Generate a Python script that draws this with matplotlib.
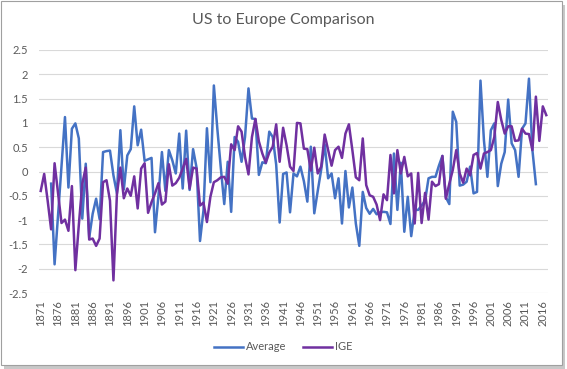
import numpy as np
import matplotlib
matplotlib.use("Agg")
import matplotlib.pyplot as plt
from matplotlib.patches import Rectangle

plt.rcParams['font.family'] = ['Lato', 'DejaVu Sans']

years = list(range(1871, 2018))

ige = [-0.40, -0.05, -0.60, -1.19, 0.17, -0.45, -1.06, -0.99, -1.22, -0.30,
       -2.03, -1.10, -0.25, 0.08, -1.40, -1.38, -1.53, -1.38, -0.22, -0.18,
       -0.60, -2.24, -0.47, 0.08, -0.55, -0.35, -0.50, -0.10, -0.76, 0.06,
       0.17, -0.85, -0.63, -0.45, -0.24, -0.68, -0.62, 0.15, -0.29, -0.24,
       -0.13, 0.06, 0.26, -0.35, 0.08, 0.06, -0.70, -0.64, -1.04, -0.52,
       -0.22, -0.18, -0.12, -0.11, -0.25, 0.56, 0.44, 0.93, 0.82, 0.30,
       -0.06, 0.71, 1.08, 0.62, 0.37, 0.18, 0.39, 0.51, 0.97, 0.20,
       0.90, 0.54, 0.10, 0.01, 1.00, 0.99, 0.47, 0.46, 0.02, 0.49,
       -0.04, 0.10, 0.76, 0.44, 0.12, 0.44, 0.51, 0.28, 0.78, 0.97,
       0.44, -0.12, -0.18, 0.68, -0.28, -0.49, -0.52, -0.68, -1.00, -0.47,
       -0.59, 0.34, -0.45, 0.44, -0.04, 0.30, -0.10, -0.04, -1.07, -0.03,
       -1.06, -0.44, -0.99, -0.21, -0.30, -0.26, 0.32, -0.56, -0.25, 0.03,
       0.44, -0.04, -0.23, 0.06, -0.08, 0.34, 0.38, 0.06, 0.37, 0.40,
       0.44, 0.71, 1.43, 1.06, 0.78, 0.93, 0.93, 0.63, 0.64, 0.88,
       0.78, 0.77, 0.44, 1.54, 0.63, 1.34, 1.16]

nan = np.nan
average = [nan, nan, nan, -0.25, -1.91, -0.90, 0.10, 1.12, -0.33, 0.88,
           0.99, 0.68, -0.97, 0.16, -1.36, -0.87, -0.56, -0.98, 0.40, 0.42,
           0.43, -0.08, -0.45, 0.85, -0.37, 0.33, 0.46, 1.34, 0.54, 0.86,
           0.22, 0.25, 0.28, -1.25, -0.50, 0.40, -0.40, 0.44, 0.23, -0.04,
           0.78, -0.35, 0.84, -0.38, 0.46, 0.08, -1.43, -0.80, 0.89, -0.22,
           1.77, 0.88, 0.08, -0.67, 0.20, -0.83, 0.71, 0.61, 0.20, 0.71,
           1.71, 1.09, 1.08, -0.07, 0.19, 0.17, 0.82, 0.71, 0.14, -1.05,
           -0.05, -0.02, -0.84, -0.04, -0.10, 0.10, -0.20, -0.62, 0.51, -0.86,
           -0.40, 0.04, 0.56, -0.14, -0.04, -0.55, -0.14, -1.07, 0.01, -0.74,
           -0.33, -1.07, -1.53, -0.42, -0.75, -0.87, -0.77, -0.88, -0.84, -0.83,
           -0.84, -1.08, 0.37, -0.79, 0.18, -1.24, -0.52, -1.33, -0.79, -0.79,
           -0.70, -0.60, -0.14, -0.11, -0.11, 0.12, 0.32, -0.53, -0.67, 1.23,
           1.02, -0.29, -0.27, -0.21, 0.10, -0.45, -0.42, 1.87, 0.64, -0.11,
           0.85, 0.99, -0.30, 0.16, 0.40, 1.48, 0.58, 0.44, -0.11, 0.88,
           0.99, 1.91, 0.44, -0.26, nan, nan, nan]

title = "US to Europe Comparison"
series_names = ["Average", "IGE"]
colors = ["#4472C4", "#7030A0"]
yticks = [-2.5, -2, -1.5, -1, -0.5, 0, 0.5, 1, 1.5, 2, 2.5]

W, H = 567, 369
fig = plt.figure(figsize=(W / 100, H / 100), dpi=100)
fig.patch.set_facecolor("white")

# frame with shadow
fig.patches.append(Rectangle((4 / W, 0 / H), (W - 6) / W, (H - 5) / H,
                             transform=fig.transFigure, facecolor="#C8C8C8",
                             edgecolor="none", zorder=-3))
fig.patches.append(Rectangle((1 / W, 4 / H), (W - 6) / W, (H - 5) / H,
                             transform=fig.transFigure, facecolor="white",
                             edgecolor="#A0A0A0", linewidth=0.8, zorder=-2))

ax = fig.add_axes([39 / W, 1 - 293 / H, (548 - 39) / W, (293 - 50) / H])
x = np.arange(len(years))
ax.plot(x, average, color=colors[0], lw=1.8, label=series_names[0],
        solid_joinstyle="round")
ax.plot(x, ige, color=colors[1], lw=1.8, label=series_names[1],
        solid_joinstyle="round")

ax.set_xlim(-0.5, len(years) - 0.5)
ax.set_ylim(-2.5, 2.5)
ax.set_yticks(yticks)
ax.set_yticklabels([f"{v:g}" for v in yticks])
ax.set_xticks(x[::5])
ax.set_xticklabels([str(y) for y in years[::5]], rotation=90)
ax.tick_params(axis="both", length=0, colors="#595959", labelsize=8)
ax.tick_params(axis="y", pad=8)
ax.tick_params(axis="x", pad=5)
ax.grid(axis="y", color="#D9D9D9", lw=0.8)
ax.set_axisbelow(True)
for s in ax.spines.values():
    s.set_visible(False)

fig.text(0.5, 1 - 20 / H, title, ha="center", va="center",
         fontsize=11.5, color="#595959")

fig.legend(loc="center", bbox_to_anchor=(0.5, 1 - 347 / H), ncol=2,
           frameon=False, fontsize=8, labelcolor="#595959",
           handlelength=2.6, columnspacing=1.5, handletextpad=0.3)

fig.savefig("out.png", dpi=100)
